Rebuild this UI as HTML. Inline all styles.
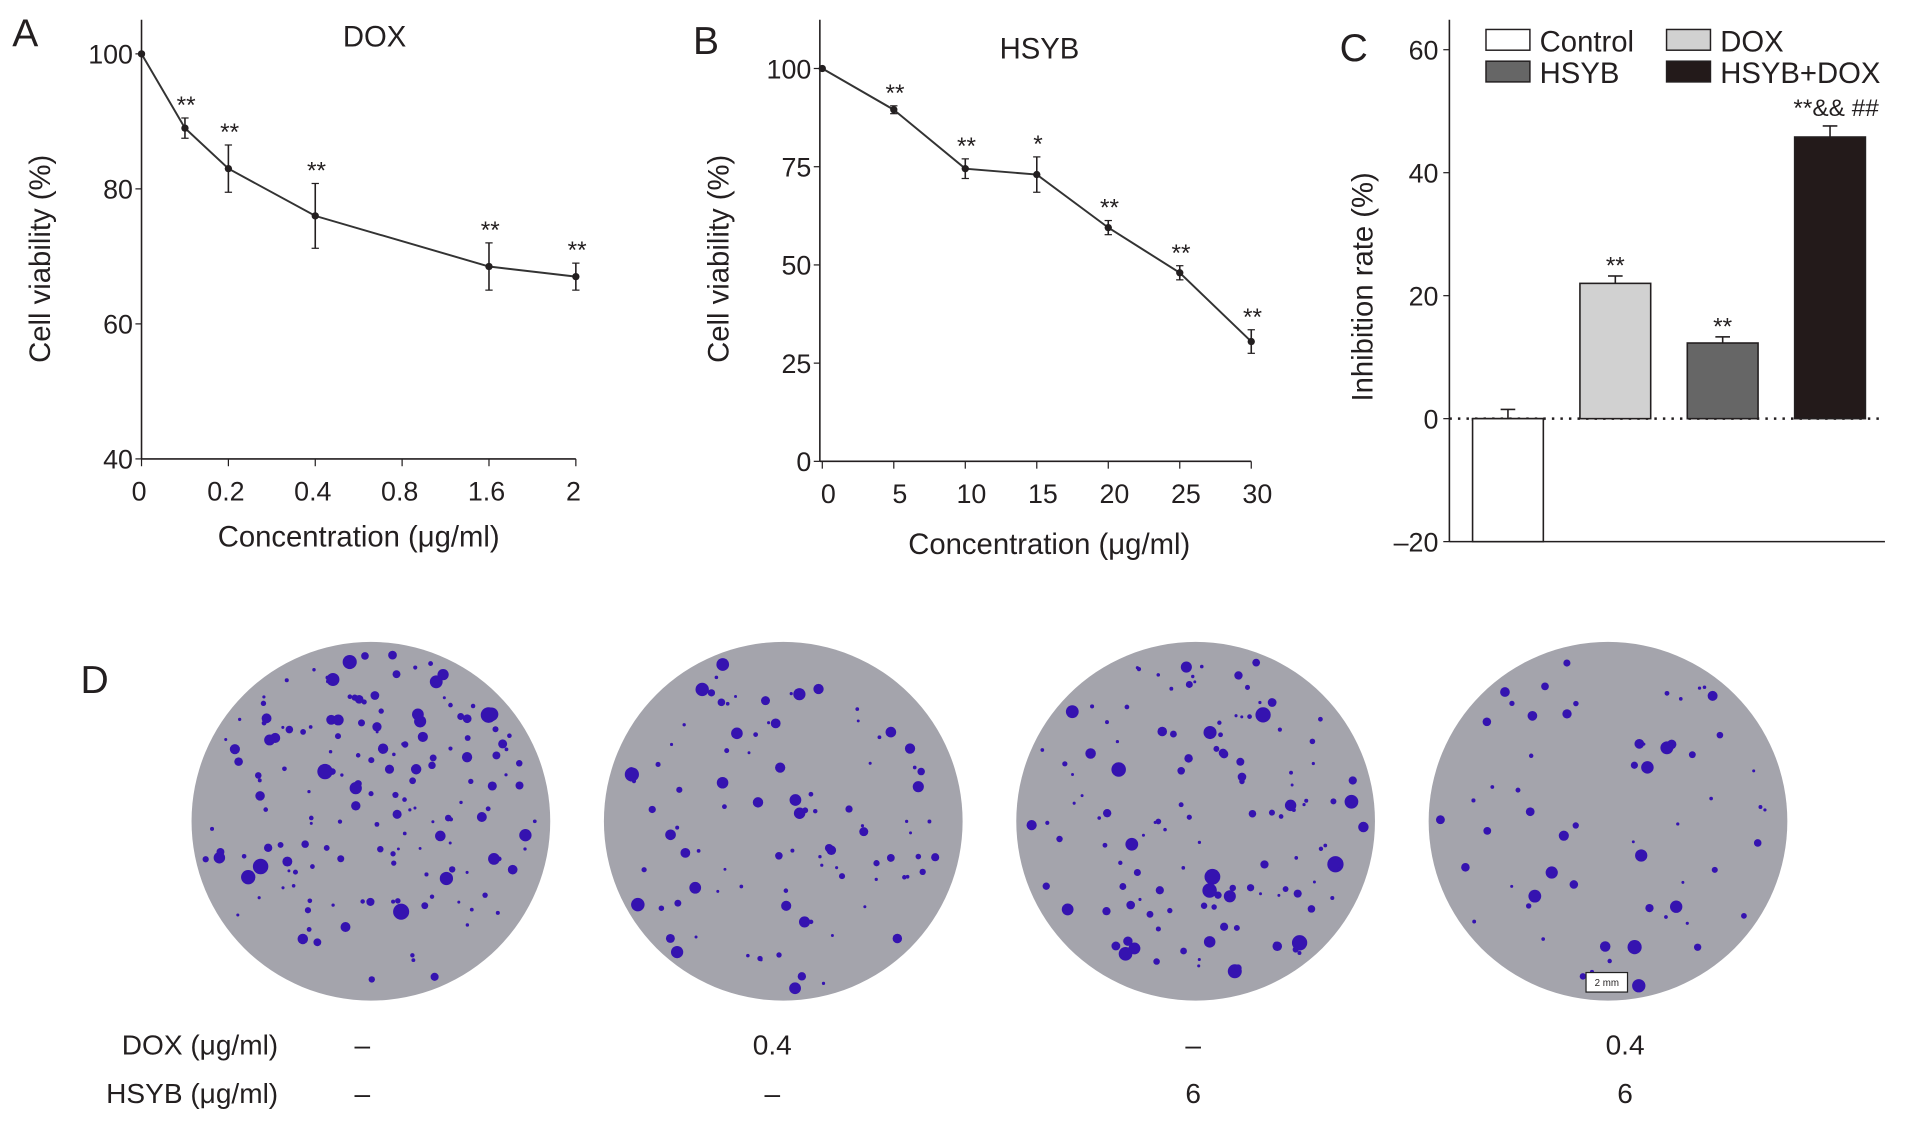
<!DOCTYPE html>
<html><head><meta charset="utf-8"><style>
html,body{margin:0;padding:0;background:#fff}
svg{display:block}
text{font-family:"Liberation Sans",sans-serif;fill:#231f20}
</style></head><body>
<svg id="fig" width="1913" height="1124" viewBox="0 0 1568 921" xmlns="http://www.w3.org/2000/svg">
<defs><clipPath id="c1"><circle cx="304" cy="673" r="147"/></clipPath><clipPath id="c2"><circle cx="642" cy="673" r="147"/></clipPath><clipPath id="c3"><circle cx="980" cy="673" r="147"/></clipPath><clipPath id="c4"><circle cx="1318" cy="673" r="147"/></clipPath></defs>
<g id="pA"></g>
<g id="pB"></g>
<g id="pC"></g>
<g id="pD"></g>
<text x="10" y="38" font-size="32">A</text>
<text x="568" y="44" font-size="32">B</text>
<text x="1098" y="50" font-size="32">C</text>
<text x="66" y="568" font-size="32">D</text>
<text x="228" y="864" font-size="23" text-anchor="end">DOX (μg/ml)</text>
<text x="228" y="904" font-size="23" text-anchor="end">HSYB (μg/ml)</text>
</svg>
<script>
const NS="http://www.w3.org/2000/svg";
function mk(p,t,a,txt){const e=document.createElementNS(NS,t);for(const k in a)e.setAttribute(k,a[k]);if(txt!==undefined)e.textContent=txt;p.appendChild(e);return e;}

// Panel A data
const aTickLabels=["0","0.2","0.4","0.8","1.6","2"];
const aPointIdx=[0,0.5,1,2,4,5];
const aValues=[100,89,83,76,68.5,67];
const aErrors=[0,1.5,3.5,4.8,3.5,2];
const aStars=["","**","**","**","**","**"];
const aYTicks=[40,60,80,100];
// Panel B data
const bTickLabels=["0","5","10","15","20","25","30"];
const bConc=[0,5,10,15,20,25,30];
const bValues=[100,89.5,74.5,73,59.5,48,30.5];
const bErrors=[0,1,2.5,4.5,1.8,1.8,3];
const bStars=["","**","**","*","**","**","**"];
const bYTicks=[0,25,50,75,100];
// Panel C data
const cGroups=["Control","DOX","HSYB","HSYB+DOX"];
const cValues=[0,22,12.3,45.8];
const cErrors=[1.5,1.2,1,1.8];
const cStars=["","**","**","**&& ##"];
const cYTicks=[-20,0,20,40,60];
const cFills=["#ffffff","#d1d1d1","#666666","#231a1a"];
// Panel D labels
const dDox=["–","0.4","–","0.4"];
const dHsyb=["–","–","6","6"];
const dColonies=[170,95,130,60];

function lineChart(g,o){
  const X=i=>o.x0+i*o.dx, Y=v=>o.y0-(v-o.vmin)*o.sy;
  let s=mk(g,'line',{x1:o.ax,y1:o.ytop,x2:o.ax,y2:Y(o.vmin),stroke:'#231f20','stroke-width':1.3});
  
  s=mk(g,'line',{x1:o.ax,y1:Y(o.vmin),x2:X(o.tl.length-1),y2:Y(o.vmin),stroke:'#231f20','stroke-width':1.3});
  
  o.yt.forEach(v=>{mk(g,'line',{x1:o.ax-5,y1:Y(v),x2:o.ax,y2:Y(v),stroke:'#231f20'});
    const t=mk(g,'text',{x:o.ax-7,y:Y(v)+8,'font-size':22,'text-anchor':'end'},v);
    });
  o.tl.forEach((l,i)=>{mk(g,'line',{x1:X(i),y1:Y(o.vmin),x2:X(i),y2:Y(o.vmin)+6,stroke:'#231f20'});
    const t=mk(g,'text',{x:X(i)+(o.tx||0),y:Y(o.vmin)+34,'font-size':22,'text-anchor':'middle'},l);
    });
  const pts=o.px.map((p,i)=>[X(p),Y(o.vals[i])]);
  const pl=mk(g,'polyline',{points:pts.map(p=>p.join(',')).join(' '),fill:'none',stroke:'#333','stroke-width':1.6});
  
  pts.forEach((p,i)=>{const e=o.err[i]*o.sy;
    if(e>0){mk(g,'line',{x1:p[0],y1:p[1]-e,x2:p[0],y2:p[1]+e,stroke:'#231f20','stroke-width':1.3});
      mk(g,'line',{x1:p[0]-3,y1:p[1]-e,x2:p[0]+3,y2:p[1]-e,stroke:'#231f20'});
      mk(g,'line',{x1:p[0]-3,y1:p[1]+e,x2:p[0]+3,y2:p[1]+e,stroke:'#231f20'});}
    const c=mk(g,'circle',{cx:p[0],cy:p[1],r:3,fill:'#231f20'});
    
    if(o.stars[i]){const t=mk(g,'text',{x:p[0]+1,y:p[1]-e-4,'font-size':20,'text-anchor':'middle'},o.stars[i]);
      }
  });
  let t=mk(g,'text',{x:o.title[0],y:o.title[1],'font-size':24,'text-anchor':'middle'},o.title[2]);
  
  t=mk(g,'text',{x:o.xt[0],y:o.xt[1],'font-size':24,'text-anchor':'middle'},'Concentration (μg/ml)');
  
  t=mk(g,'text',{x:0,y:0,'font-size':24,'text-anchor':'middle',transform:`translate(${o.yl[0]},${o.yl[1]}) rotate(-90)`},'Cell viability (%)');
  
}
lineChart(document.getElementById('pA'),{ax:116,ytop:16,x0:116,dx:71.2,y0:376,vmin:40,sy:332/60,tl:aTickLabels,yt:aYTicks,px:aPointIdx,vals:aValues,err:aErrors,stars:aStars,title:[307,38,'DOX'],xt:[294,448],yl:[41,212],tx:-2});
lineChart(document.getElementById('pB'),{ax:672,ytop:16,x0:674,dx:58.6,y0:378,vmin:0,sy:322/100,tl:bTickLabels,yt:bYTicks,px:bConc.map(c=>c/5),vals:bValues,err:bErrors,stars:bStars,title:[852,48,'HSYB'],xt:[860,454],yl:[597,212],tx:5});

// Panel C
(function(){
  const g=document.getElementById('pC');const ax=1188;const Y=v=>343-v*5.04;
  let s=mk(g,'line',{x1:ax,y1:16,x2:ax,y2:Y(-20),stroke:'#231f20','stroke-width':1.3});
  
  s=mk(g,'line',{x1:ax,y1:Y(-20),x2:1545,y2:Y(-20),stroke:'#231f20','stroke-width':1.3});
  
  s=mk(g,'line',{x1:ax,y1:Y(0),x2:1545,y2:Y(0),stroke:'#231f20','stroke-width':2,'stroke-dasharray':'2,5'});
  
  cYTicks.forEach(v=>{mk(g,'line',{x1:ax-5,y1:Y(v),x2:ax,y2:Y(v),stroke:'#231f20'});
    const t=mk(g,'text',{x:ax-9,y:Y(v)+8,'font-size':22,'text-anchor':'end'},v<0?'–'+(-v):v);
    });
  cGroups.forEach((n,i)=>{const x=1207+i*88,w=58,v=cValues[i];
    const top=Math.min(Y(v),Y(0)),h=Math.max(Math.abs(Y(v)-Y(0)),1);
    const r=mk(g,'rect',{x:x,y:top,width:w,height:h,fill:cFills[i],stroke:'#231f20','stroke-width':1.3});
    
    if(i===0) mk(g,'rect',{x:x,y:Y(0),width:w,height:Y(-20)-Y(0),fill:'#fff',stroke:'#231f20','stroke-width':1.3});
    const e=cErrors[i]*5.04,cx=x+w/2;
    mk(g,'line',{x1:cx,y1:Y(v),x2:cx,y2:Y(v)-e,stroke:'#231f20','stroke-width':1.3});
    mk(g,'line',{x1:cx-6,y1:Y(v)-e,x2:cx+6,y2:Y(v)-e,stroke:'#231f20','stroke-width':1.3});
    if(cStars[i]){const t=mk(g,'text',{x:i===3?1505:cx,y:i===3?95:Y(v)-e-2,'font-size':20,'text-anchor':'middle','font-family':'Liberation Serif',fill:i===3?'#231f20':'#555'},cStars[i]);
      }
  });
  let t=mk(g,'text',{x:0,y:0,'font-size':24,'text-anchor':'middle',transform:'translate(1125,235) rotate(-90)'},'Inhibition rate (%)');
  
  const leg=[[1218,24,'Control'],[1366,24,'DOX'],[1218,50,'HSYB'],[1366,50,'HSYB+DOX']];
  leg.forEach((l,i)=>{const lg=mk(g,'g',{});
    
    mk(lg,'rect',{x:l[0],y:l[1],width:36,height:17,fill:cFills[i],stroke:'#231f20','stroke-width':1.2});
    mk(lg,'text',{x:l[0]+44,y:l[1]+18,'font-size':24},l[2]);});
})();

// Panel D
(function(){
  const g=document.getElementById('pD');const cxs=[304,642,980,1318];const lx=[297,633,978,1332];let seed=7;
  const rnd=()=>{seed=(seed*16807)%2147483647;return seed/2147483647;};
  cxs.forEach((cx,k)=>{const dish=mk(g,'g',{});
    
    mk(dish,'circle',{cx:cx,cy:673,r:147,fill:'#a4a4ac'});
    const cg=mk(dish,'g',{'clip-path':`url(#c${k+1})`});
    for(let j=0;j<dColonies[k];j++){const a=rnd()*6.283,rr=Math.sqrt(rnd())*140;
      const sz=1.2+rnd()*rnd()*5.5;
      mk(cg,'circle',{cx:cx+Math.cos(a)*rr,cy:673+Math.sin(a)*rr,r:sz,fill:'#3513b0'});}
    if(k===3){mk(dish,'rect',{x:1300,y:797,width:34,height:16,fill:'#fff',stroke:'#222'});
      mk(dish,'text',{x:1317,y:808,'font-size':8,'text-anchor':'middle','font-family':'Liberation Serif'},'2 mm');}
    let t=mk(g,'text',{x:lx[k],y:864,'font-size':23,'text-anchor':'middle'},dDox[k]);
    
    t=mk(g,'text',{x:lx[k],y:904,'font-size':23,'text-anchor':'middle'},dHsyb[k]);
    
  });
})();
</script>
</body></html>
